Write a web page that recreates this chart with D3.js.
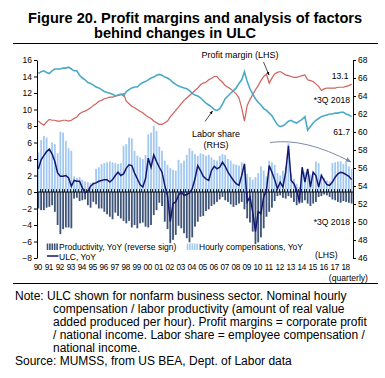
<!DOCTYPE html>
<html>
<head>
<meta charset="utf-8">
<script src="https://cdn.jsdelivr.net/npm/d3@7"></script>
<style>
  html, body { margin: 0; padding: 0; background: #fff; }
  svg { display: block; }
  text { font-family: "Liberation Sans", Arial, sans-serif; fill: #000; }
</style>
</head>
<body>
<script>
// ---------- DATA ----------
const years = ["90","91","92","93","94","95","96","97","98","99","00","01","02","03","04","05","06","07","08","09","10","11","12","13","14","15","16","17","18"];
const leftTicks = [-8,-6,-4,-2,0,2,4,6,8,10,12,14,16];
const rightTicks = [46,48,50,52,54,56,58,60,62,64,66,68];

// Profit margin, % (LHS)
const profitMargin = [8.6,8.3,8.1,8.5, 8.8,8.7,8.7,8.6, 8.6,8.7,8.7,8.6, 8.7,8.9,9.1,9.5, 9.7,9.8,10.0,10.2,
  10.5,10.7,11.0,11.1, 11.3,11.4,11.5,11.5, 11.6,11.7,11.8,11.9, 11.0,10.7,10.4,10.2, 10.0,9.8,9.6,9.3,
  9.1,8.9,8.6,8.4, 8.2,8.2,8.4,8.6, 9.1,9.5,9.9,10.3, 10.7,11.1,11.4,11.7, 12.0,12.3,12.6,13.0,
  13.2,13.3,13.6,13.8, 14.0,14.0,13.6,13.3, 12.9,12.7,12.5,12.2, 11.9,11.4,10.2,8.6, 10.5,11.2,11.8,12.4,
  12.9,13.5,14.0,14.3, 13.2,13.8,14.3,14.5, 14.6,14.4,14.2,14.1, 14.0,13.9,13.9,14.0, 14.1,14.2,13.6,13.5,
  13.4,13.1,12.8,12.3, 12.5,12.6,12.6,12.6, 12.6,12.7,12.7,12.7, 12.8,12.9,13.1];

// Labor share, % (RHS)
const laborShare = [66.5,66.7,66.8,66.6, 66.5,66.8,67.0,67.0, 67.0,67.1,67.1,67.2, 67.0,66.8,66.8,66.3, 66.0,65.8,65.5,65.4,
  65.2,65.0,64.9,64.7, 64.5,64.4,64.3,64.2, 64.0,64.1,64.2,64.0, 64.5,64.7,64.9,65.0, 65.0,65.3,65.5,65.6,
  65.8,66.0,66.1,66.3, 66.4,66.3,66.1,66.0, 65.8,65.5,65.3,65.1, 65.0,64.9,64.8,64.6, 64.3,64.1,64.0,63.8,
  63.5,63.2,63.0,62.8, 62.5,62.4,62.6,63.1, 63.7,64.0,64.3,64.6, 64.9,65.4,65.8,66.7, 65.6,64.8,64.2,63.7,
  63.3,63.0,62.6,62.4, 62.1,61.8,61.3,60.8, 60.6,60.7,60.9,61.2, 61.3,61.1,61.0,61.2, 61.4,61.7,60.2,60.6,
  61.0,61.3,61.5,61.7, 61.8,61.9,62.0,62.0, 62.1,62.1,62.2,62.2, 62.0,61.9,61.7];

// Hourly compensation, YoY %
const hourlyComp = [4.8,6.3,6.8,6.6, 5.3,6.0,5.8,4.7, 7.3,7.2,6.2,5.3, 5.0,1.9,1.7,1.8, 1.5,1.3,1.2,1.1,
  1.2,2.8,3.0,3.4, 3.5,3.6,3.7,3.6, 3.5,3.4,3.5,5.6, 5.8,6.6,6.5,5.0, 4.4,4.2,4.0,4.5,
  7.0,7.2,8.0,7.4, 5.5,5.0,3.8,3.3, 2.9,2.7,2.6,3.9, 3.5,3.8,4.5,5.3, 5.0,4.6,4.4,4.7,
  4.6,4.4,4.5,4.2, 3.9,3.8,4.4,4.6, 4.5,4.0,3.8,3.4, 3.3,3.2,3.6,3.5, 2.2,1.8,1.5,1.8,
  2.3,3.1,2.6,1.9, 3.8,3.6,3.3,2.3, 2.0,2.6,3.0,5.9, 2.2,1.6,1.0,0.6, 2.6,2.4,2.7,2.1,
  2.4,3.7,3.5,2.2, 1.7,1.4,1.3,3.5, 3.6,3.7,3.7,3.4, 3.6,3.1,2.8];

// Labor productivity, YoY % (reverse sign)
const productivity = [-2.0,-2.2,-2.2,-1.9, -1.8,-1.6,-2.4,-4.0, -5.1,-4.5,-4.3,-4.3, -4.4,-0.8,-0.7,-1.1, -1.0,-0.9,-1.6,-1.9,
  -1.2,-1.5,-2.0,-2.0, -2.4,-2.7,-3.0,-3.3, -2.5,-2.9,-3.2,-3.5, -3.8,-3.5,-4.3,-4.0, -4.4,-3.8,-3.7,-4.2,
  -4.3,-4.0,-2.8,-2.2, -1.3,-1.7,-3.6,-4.5, -6.2,-5.8,-5.2,-4.1, -4.4,-5.0,-5.6,-6.1, -5.5,-4.2,-3.6,-3.0,
  -2.9,-2.3,-2.1,-1.7, -1.5,-1.2,-0.9,-0.6, -1.0,-1.2,-1.5,-1.8, -1.6,-1.4,-1.2,-2.1, -3.2,-3.7,-4.8,-6.3,
  -6.1,-5.5,-4.4,-3.0, -2.4,-1.9,-1.1,-0.5, -0.4,-0.7,-0.8,-0.5, -0.7,-1.2,-1.6,-1.4, -1.3,-1.0,-1.4,-1.7,
  -1.4,-1.2,-0.6,-0.5, -0.3,-0.4,-0.6,-0.9, -1.0,-1.2,-1.3,-1.1, -1.2,-1.3,-1.4];

// Unit labor cost, YoY %
const ulc = [2.8,3.9,4.4,4.9, 5.2,4.6,3.7,2.3, 1.9,1.9,2.0,1.7, 0.7,1.4,1.3,1.3, 0.5,-0.1,0.1,0.7,
  1.0,1.1,1.3,1.4, 1.5,1.5,1.2,1.5, 2.0,2.4,2.0,2.2, 2.9,3.3,3.2,2.3, 1.6,0.9,0.6,1.6,
  4.1,3.0,4.5,3.7, 3.0,2.4,0.8,-0.5, -3.6,-1.4,-1.2,-0.4, 0.0,-0.4,-0.3,-0.1, 0.4,1.6,3.2,2.6,
  1.9,1.6,1.4,2.6, 3.1,2.8,3.0,3.6, 3.1,2.4,1.9,1.4, 1.0,0.8,2.0,3.4, -1.2,-0.6,-2.4,-4.8,
  -2.4,-2.6,-0.6,0.2, 3.2,2.4,1.5,0.4, 1.2,0.6,2.4,5.6, 1.4,1.0,0.2,-1.2, 3.0,1.2,2.8,0.6,
  2.4,2.0,0.6,2.0, 1.4,0.9,0.8,1.2, 1.8,2.2,2.4,2.3, 2.1,1.9,1.5];

// quarterly categories built from the year tick labels (1990Q1 .. 2018Q3)
const quarters = [];
years.forEach((y, k) => {
  const nq = (k === years.length - 1) ? 3 : 4;
  for (let q = 1; q <= nq; q++) quarters.push(y + "Q" + q);
});

// ---------- CHART ----------
const W = 385, H = 378;
const svg = d3.select("body").append("svg").attr("width", W).attr("height", H);
svg.append("rect").attr("width", W).attr("height", H).attr("fill", "#fff");

const colRed = "#d0605c", colTeal = "#4aaac6", colLight = "#a3c9f1", colDark = "#3e5479", colUlc = "#16166e";

// Title
svg.append("text").attr("x", 28).attr("y", 23).attr("font-size", 14.6).attr("font-weight", "bold")
  .text("Figure 20. Profit margins and analysis of factors");
svg.append("text").attr("x", 94).attr("y", 37.5).attr("font-size", 14.6).attr("font-weight", "bold")
  .text("behind changes in ULC");
svg.append("line").attr("x1", 13).attr("x2", 378).attr("y1", 43.5).attr("y2", 43.5).attr("stroke", "#000").attr("stroke-width", 1);

const x0 = 37, x1 = 353, yTop = 60, yBot = 258;
const x = d3.scaleBand().domain(quarters).range([x0, x1]).paddingInner(0.34).paddingOuter(0.17);
const xc = q => x(q) + x.bandwidth() / 2;
const yL = d3.scaleLinear().domain([-8, 16]).range([yBot, yTop]);
const yR = d3.scaleLinear().domain([46, 68]).range([yBot, yTop]);

// bars
svg.append("g").selectAll("rect").data(quarters).join("rect")
  .attr("x", q => x(q)).attr("width", x.bandwidth())
  .attr("y", (q, i) => yL(hourlyComp[i])).attr("height", (q, i) => yL(0) - yL(hourlyComp[i]))
  .attr("fill", colLight);
svg.append("g").selectAll("rect").data(quarters).join("rect")
  .attr("x", q => x(q)).attr("width", x.bandwidth())
  .attr("y", yL(0)).attr("height", (q, i) => yL(productivity[i]) - yL(0))
  .attr("fill", colDark);

// zero line with small category ticks
svg.append("line").attr("x1", x0).attr("x2", x1).attr("y1", yL(0)).attr("y2", yL(0)).attr("stroke", "#000").attr("stroke-width", 1.2);
svg.append("g").selectAll("line").data(quarters).join("line")
  .attr("x1", q => Math.round(x(q) - x.step() * x.paddingInner() / 2) + 0.5)
  .attr("x2", q => Math.round(x(q) - x.step() * x.paddingInner() / 2) + 0.5)
  .attr("y1", yL(0) - 3).attr("y2", yL(0)).attr("stroke", "#000").attr("stroke-width", 0.8);

// lines
const lineL = arr => d3.line().x((q, i) => xc(q)).y((q, i) => yL(arr[i]));
const lineR = arr => d3.line().x((q, i) => xc(q)).y((q, i) => yR(arr[i]));
svg.append("path").attr("d", lineL(profitMargin)(quarters)).attr("fill", "none").attr("stroke", colRed).attr("stroke-width", 1.2);
svg.append("path").attr("d", lineR(laborShare)(quarters)).attr("fill", "none").attr("stroke", colTeal).attr("stroke-width", 1.6);
svg.append("path").attr("d", lineL(ulc)(quarters)).attr("fill", "none").attr("stroke", colUlc).attr("stroke-width", 1.5);

// axes
const axL = svg.append("g").attr("transform", `translate(${x0},0)`)
  .call(d3.axisLeft(yL).tickValues(leftTicks).tickSize(3).tickSizeOuter(0).tickPadding(2));
const axR = svg.append("g").attr("transform", `translate(${x1},0)`)
  .call(d3.axisRight(yR).tickValues(rightTicks).tickSize(3).tickSizeOuter(0).tickPadding(2));
[axL, axR].forEach(a => {
  a.selectAll("text").attr("font-size", 8.5).attr("font-family", "Liberation Sans, Arial, sans-serif").attr("fill", "#000");
  a.selectAll("path,line").attr("stroke", "#000");
});

// x year labels
svg.append("g").selectAll("text").data(years).join("text")
  .attr("x", (y, k) => xc(quarters[k * 4]) - 0.5).attr("y", 269.5)
  .attr("text-anchor", "middle").attr("font-size", 8.2).attr("letter-spacing", -0.35)
  .text(d => d);
svg.append("text").attr("x", 368).attr("y", 280.5).attr("text-anchor", "end").attr("font-size", 8.6).text("(quarterly)");

// annotations
const defs = svg.append("defs");
defs.append("marker").attr("id", "ah").attr("viewBox", "0 0 10 10").attr("refX", 9).attr("refY", 5)
  .attr("markerWidth", 5).attr("markerHeight", 5).attr("orient", "auto")
  .append("path").attr("d", "M0,1 L10,5 L0,9 Z").attr("fill", "#000");
defs.append("marker").attr("id", "ahg").attr("viewBox", "0 0 10 10").attr("refX", 9).attr("refY", 5)
  .attr("markerWidth", 6).attr("markerHeight", 6).attr("orient", "auto")
  .append("path").attr("d", "M0,1 L10,5 L0,9 Z").attr("fill", "#7f89a8");

svg.append("text").attr("x", 240).attr("y", 57.5).attr("text-anchor", "middle").attr("font-size", 9).text("Profit margin (LHS)");
svg.append("line").attr("x1", 263.5).attr("y1", 62).attr("x2", 269).attr("y2", 75).attr("stroke", "#000").attr("stroke-width", 0.7).attr("marker-end", "url(#ah)");
svg.append("text").attr("x", 216).attr("y", 137).attr("text-anchor", "middle").attr("font-size", 9).text("Labor share");
svg.append("text").attr("x", 216).attr("y", 147.5).attr("text-anchor", "middle").attr("font-size", 9).text("(RHS)");
svg.append("line").attr("x1", 205).attr("y1", 121.5).attr("x2", 212.5).attr("y2", 111).attr("stroke", "#000").attr("stroke-width", 0.7).attr("marker-end", "url(#ah)");

svg.append("text").attr("x", 348.5).attr("y", 79).attr("text-anchor", "end").attr("font-size", 8.6).text("13.1");
svg.append("text").attr("x", 350).attr("y", 102.5).attr("text-anchor", "end").attr("font-size", 8.6).text("*3Q 2018");
svg.append("text").attr("x", 350).attr("y", 134.5).attr("text-anchor", "end").attr("font-size", 8.6).text("61.7");
svg.append("text").attr("x", 350).attr("y", 225).attr("text-anchor", "end").attr("font-size", 8.6).text("*3Q 2018");
svg.append("text").attr("x", 337.5).attr("y", 258).attr("text-anchor", "end").attr("font-size", 8.6).text("(LHS)");

svg.append("path").attr("d", "M270,142.5 Q305,137.5 351,162").attr("fill", "none").attr("stroke", "#7f89a8").attr("stroke-width", 1).attr("marker-end", "url(#ahg)");

// legend
const swatch = (x, col) => {
  for (let k = 0; k < 5; k++) svg.append("rect").attr("x", x + k * 2.4).attr("y", 243.5).attr("width", 1.6).attr("height", 6.5).attr("fill", col);
};
swatch(46.7, colDark);
svg.append("text").attr("x", 59).attr("y", 249.6).attr("font-size", 8.5).text("Productivity, YoY (reverse sign)");
swatch(186.7, colLight);
svg.append("text").attr("x", 199).attr("y", 249.6).attr("font-size", 8.5).text("Hourly compensations, YoY");
svg.append("line").attr("x1", 47).attr("x2", 58.5).attr("y1", 256).attr("y2", 256).attr("stroke", colUlc).attr("stroke-width", 1.5);
svg.append("text").attr("x", 59).attr("y", 259.6).attr("font-size", 8.5).text("ULC, YoY");

// bottom rule and notes
svg.append("line").attr("x1", 13).attr("x2", 378).attr("y1", 283.5).attr("y2", 283.5).attr("stroke", "#000").attr("stroke-width", 1);
const notes = [
  [15, "Note: ULC shown for nonfarm business sector. Nominal hourly"],
  [53, "compensation / labor productivity (amount of real value"],
  [53, "added produced per hour). Profit margins = corporate profit"],
  [53, "/ national income. Labor share = employee compensation /"],
  [53, "national income."],
  [15, "Source: MUMSS, from US BEA, Dept. of Labor data"]
];
notes.forEach((n, k) => svg.append("text").attr("x", n[0]).attr("y", 299.5 + k * 13).attr("font-size", 12).text(n[1]));
</script>
</body>
</html>
